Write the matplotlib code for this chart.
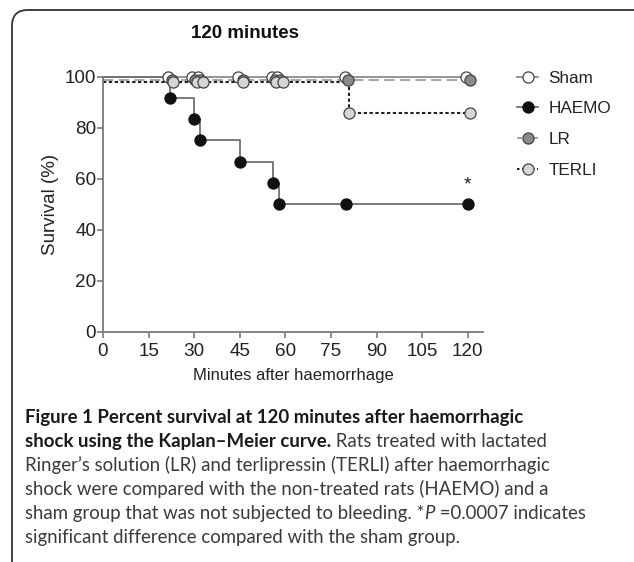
import matplotlib
matplotlib.use("Agg")
import matplotlib.pyplot as plt
from matplotlib.patches import FancyBboxPatch
from matplotlib.lines import Line2D
import numpy as np

# ---------------- data ----------------
sham_t = [0, 21.5, 29.2, 31.3, 44.5, 55.5, 57.1, 79.5, 119.5]
sham_s = [100, 100, 100, 100, 100, 100, 100, 100, 100]

haemo_t = [0, 22, 30, 32, 45, 56, 58, 80, 120]
haemo_s = [100, 91.7, 83.3, 75.0, 66.7, 58.3, 50.0, 50.0, 50.0]

lr_t = [0, 22.6, 30.2, 31.9, 46.0, 56.5, 58.2, 80.6, 120.6]
lr_s = [98.8, 98.8, 98.8, 98.8, 98.8, 98.8, 98.8, 98.8, 98.8]

terli_t = [0, 23.0, 31.0, 33.0, 46.2, 57.0, 59.3, 81.0, 120.8]
terli_s = [97.8, 97.8, 97.8, 97.8, 97.8, 97.8, 97.8, 85.7, 85.7]

xticks = [0, 15, 30, 45, 60, 75, 90, 105, 120]
yticks = [0, 20, 40, 60, 80, 100]

title = "120 minutes"
xlabel = "Minutes after haemorrhage"
ylabel = "Survival (%)"
labels = ["Sham", "HAEMO", "LR", "TERLI"]

# ---------------- figure ----------------
W, H = 634, 562
DPI = 100
fig = plt.figure(figsize=(W / DPI, H / DPI), dpi=DPI)
plt.rcParams['font.family'] = ['Liberation Sans', 'DejaVu Sans']

# border
border = FancyBboxPatch((12 / W, -0.1), 1.2, 1 - 10 / H + 0.1,
                        boxstyle="round,pad=0,rounding_size=0.025",
                        transform=fig.transFigure, fill=False,
                        edgecolor="#333333", linewidth=1.3, mutation_aspect=W / H)
fig.patches.append(border)

left, right = 103 / W, 483 / W
bottom, top = 1 - 331.7 / H, 1 - 76.7 / H
ax = fig.add_axes([left, bottom, right - left, top - bottom])

spine_c = "#7a7a7a"
ms = 8.0
mew = 0.9
edge = "#444444"

# Sham
ax.step(sham_t, sham_s, where="post", color="#8c8c8c", lw=1.3, zorder=2, clip_on=False)
# LR
ax.step(lr_t, lr_s, where="post", color="#a8a8a8", lw=1.5, ls=(0, (5, 2.5)), zorder=2, clip_on=False)
# TERLI
ax.step(terli_t, terli_s, where="post", color="#222222", lw=1.5, ls=(0, (1.6, 1.2)), zorder=2, clip_on=False)
# HAEMO
ax.step(haemo_t, haemo_s, where="post", color="#707070", lw=1.3, zorder=2, clip_on=False)

ax.plot(sham_t[1:], sham_s[1:], ls="none", marker="o", ms=ms, mfc="white", mec=edge, mew=mew, zorder=3, clip_on=False)
ax.plot(lr_t[1:], lr_s[1:], ls="none", marker="o", ms=ms, mfc="#8a8a8a", mec=edge, mew=mew, zorder=4, clip_on=False)
ax.plot(terli_t[1:], terli_s[1:], ls="none", marker="o", ms=ms, mfc="#d6d6d6", mec=edge, mew=mew, zorder=5, clip_on=False)
ax.plot(haemo_t[1:], haemo_s[1:], ls="none", marker="o", ms=ms, mfc="#111111", mec="#111111", mew=mew, zorder=6, clip_on=False)

ax.text(120, 57.5, "*", ha="center", va="center", fontsize=14, color="#222222")

ax.set_xlim(0, 125)
ax.set_ylim(0, 100)
ax.set_xticks(xticks)
ax.set_yticks(yticks)
for s in ["top", "right"]:
    ax.spines[s].set_visible(False)
for s in ["left", "bottom"]:
    ax.spines[s].set_color(spine_c)
    ax.spines[s].set_linewidth(1.3)
ax.tick_params(axis="both", colors=spine_c, width=1.2, length=4, labelsize=13.6, labelcolor="#222222")
ax.tick_params(axis="y", pad=1)
ax.tick_params(axis="x", pad=4)
ax.set_xlabel(xlabel, fontsize=12, color="#222222", labelpad=6)
ax.set_ylabel(ylabel, fontsize=13.5, color="#222222", labelpad=4)

fig.text(245 / W, 1 - 33 / H, title, ha="center", va="center", fontsize=13.5,
         fontweight="bold", color="#111111")

# legend
handles = [
    Line2D([], [], color="#8c8c8c", lw=1.3, marker="o", ms=ms, mfc="white", mec=edge, mew=mew),
    Line2D([], [], color="#707070", lw=1.3, marker="o", ms=ms, mfc="#111111", mec="#111111", mew=mew),
    Line2D([], [], color="#a8a8a8", lw=1.5, ls=(0, (2.5, 1.5)), marker="o", ms=ms, mfc="#8a8a8a", mec=edge, mew=mew),
    Line2D([], [], color="#222222", lw=1.5, ls=(0, (1.2, 1.2)), marker="o", ms=ms, mfc="#d6d6d6", mec=edge, mew=mew),
]
leg = fig.legend(handles, labels, loc="upper left", bbox_to_anchor=(517 / W, 1 - 70.5 / H),
                 frameon=False, fontsize=12.3, handlelength=1.25, handletextpad=0.6,
                 labelspacing=0.92, borderaxespad=0, borderpad=0)
for t in leg.get_texts():
    t.set_color("#222222")

# ---------------- caption ----------------
cap_font = ['Lato', 'DejaVu Sans']
fig.canvas.draw()
r = fig.canvas.get_renderer()

probe = fig.text(0, 0, "Figure 1 Percent survival at 120 minutes after haemorrhagic",
                 fontsize=10, fontweight="bold", family=cap_font)
wprobe = probe.get_window_extent(r).width
probe.remove()
cap_size = 10 * 500 / wprobe

lines = [
    [("Figure 1 Percent survival at 120 minutes after haemorrhagic", "bold", "normal")],
    [("shock using the Kaplan\u2013Meier curve.", "bold", "normal"), (" Rats treated with lactated", "normal", "normal")],
    [("Ringer\u2019s solution (LR) and terlipressin (TERLI) after haemorrhagic", "normal", "normal")],
    [("shock were compared with the non-treated rats (HAEMO) and a", "normal", "normal")],
    [("sham group that was not subjected to bleeding. *", "normal", "normal"), ("P", "normal", "italic"),
     (" =0.0007 indicates", "normal", "normal")],
    [("significant difference compared with the sham group.", "normal", "normal")],
]
baselines = [422.5, 446.7, 470.9, 495.1, 519.3, 543.5]
x0 = 25
for segs, yb in zip(lines, baselines):
    x = x0
    for txt, wt, st in segs:
        col = "#1a1a1a" if wt == "bold" else "#3a3a3a"
        t = fig.text(x / W, 1 - yb / H, txt, fontsize=cap_size, fontweight=wt, fontstyle=st,
                     family=cap_font, color=col, ha="left", va="baseline")
        x += t.get_window_extent(r).width

fig.savefig("out.png", dpi=DPI)
